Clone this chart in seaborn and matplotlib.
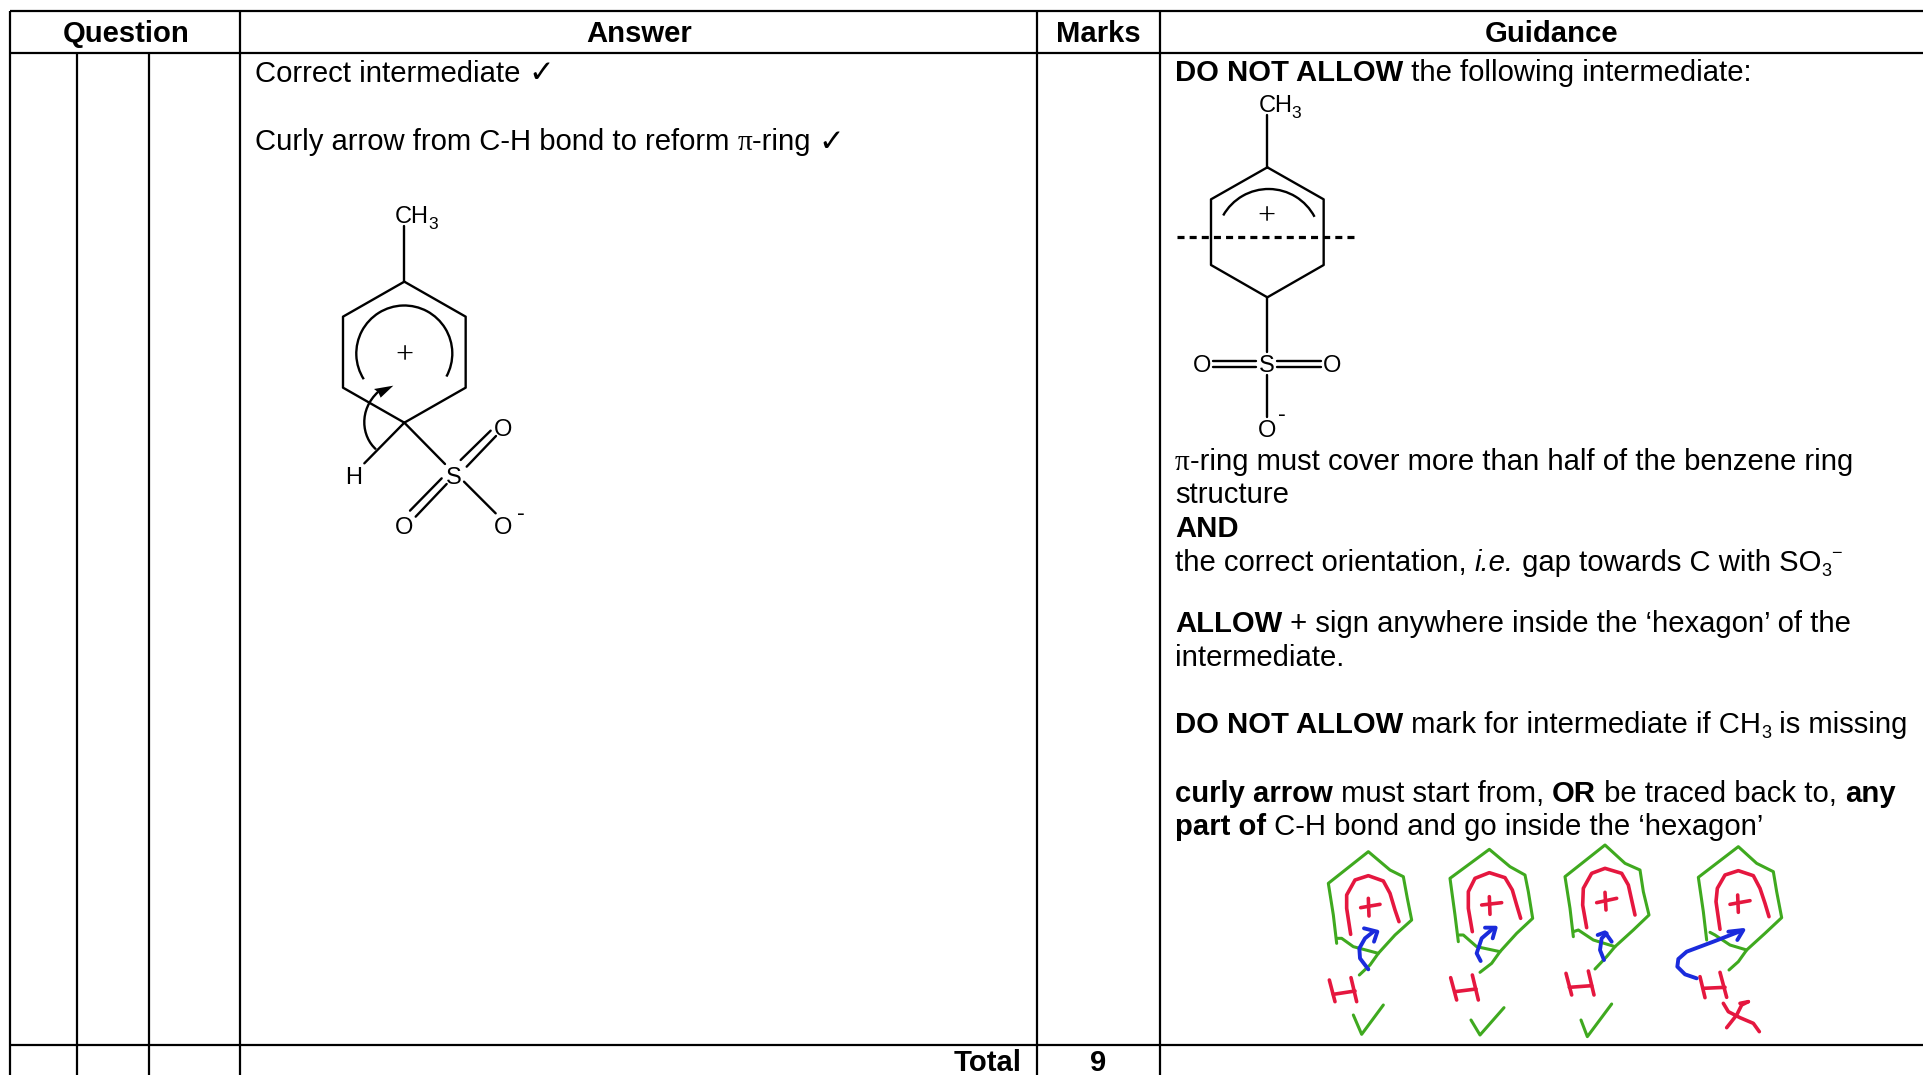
import matplotlib
matplotlib.use("Agg")
import matplotlib.pyplot as plt
import seaborn as sns
from matplotlib.patches import Arc, PathPatch, Polygon
from matplotlib.path import Path

# ---------- table ----------
V_LINES = [10, 77, 149, 240, 1037, 1160]
H_LINES = [11, 53, 1045]
HEADERS = ["Question", "Answer", "Marks", "Guidance"]
HEADER_X = [126, 639, 1098, 1552]

ANSWER_LINES = [
    (82, [("Correct intermediate ", "n"), ("✓", "c")]),
    (150.5, [("Curly arrow from C-H bond to reform ", "n"), ("π", "p"), ("-ring ", "n"), ("✓", "c")]),
]
GUIDANCE_LINES = [
    (81, [("DO NOT ALLOW", "b"), (" the following intermediate:", "n")]),
    (470, [("π", "p"), ("-ring must cover more than half of the benzene ring", "n")]),
    (503, [("structure", "n")]),
    (537, [("AND", "b")]),
    (571, [("the correct orientation, ", "n"), ("i.e.", "i"), (" gap towards C with SO", "n"), ("3", "s"), ("−", "u")]),
    (632, [("ALLOW", "b"), (" + sign anywhere inside the ‘hexagon’ of the", "n")]),
    (666, [("intermediate.", "n")]),
    (733, [("DO NOT ALLOW", "b"), (" mark for intermediate if CH", "n"), ("3", "s"), (" is missing", "n")]),
    (802, [("curly arrow", "b"), (" must start from, ", "n"), ("OR", "b"), (" be traced back to, ", "n"), ("any", "b")]),
    (835, [("part of", "b"), (" C-H bond and go inside the ‘hexagon’", "n")]),
]
TOTAL_LABEL = "Total"
TOTAL_VALUE = "9"

# ---------- structure A (answer), zoom units: x=250+zx/3, y=180+zy/3 ----------
A_ORIGIN = (250, 180)
A_RING = [(463, 305), (647, 410), (647, 623), (463, 728), (279, 623), (279, 410), (463, 305)]
A_BONDS = [[(463, 138), (463, 305)], [(463, 728), (585, 852)], [(463, 728), (343, 850)],
           [(632, 840), (722, 752)], [(650, 860), (738, 768)],
           [(480, 992), (575, 895)], [(497, 1010), (590, 912)], [(642, 905), (737, 1000)]]
A_LABELS = [("O", 758, 742), ("S", 612, 885), ("O", 462, 1035), ("O", 758, 1035), ("H", 312, 888)]

# ---------- structure B (guidance), zoom units: x=1150+zx/3, y=80+zy/3 ----------
B_ORIGIN = (1150, 80)
B_RING = [(352, 262), (521, 358), (521, 555), (352, 652), (183, 555), (183, 358), (352, 262)]
B_BONDS = [[(352, 105), (352, 262)], [(352, 652), (352, 815)], [(352, 885), (352, 1012)],
           [(190, 842), (318, 842)], [(190, 862), (318, 862)],
           [(382, 842), (512, 842)], [(382, 862), (512, 862)]]
B_DASH = [(82, 472), (617, 472)]
B_LABELS = [("O", 155, 852), ("S", 350, 852), ("O", 545, 852), ("O", 350, 1045)]

# ---------- handwritten sketches, zoom units: x=1300+zx/3, y=835+zy/3 ----------
H_ORIGIN = (1300, 835)
GREEN = "#3fa91f"
RED = "#e5173f"
BLUE = "#1a2bdc"
GREEN_STROKES = [
    [(110,325),(100,240),(85,145),(205,50),(270,105),(310,125),(322,190),(335,255),(285,300),(235,355),(210,390),(178,420)],
    [(112,310),(125,310),(160,335),(235,355)],
    [(160,540),(185,598),(250,510)],
    [(475,320),(465,240),(450,130),(568,43),(630,95),(675,120),(685,170),(698,250),(650,295),(600,350),(575,385),(540,412)],
    [(478,300),(490,300),(530,335),(600,350)],
    [(513,555),(540,600),(612,518)],
    [(820,305),(810,220),(795,125),(915,30),(975,85),(1020,105),(1030,170),(1047,240),(1000,285),(945,335),(920,365),(885,402)],
    [(820,290),(835,285),(880,315),(945,335)],
    [(843,555),(862,605),(935,507)],
    [(1220,315),(1210,230),(1195,127),(1315,35),(1370,85),(1420,110),(1430,170),(1445,248),(1395,295),(1340,345),(1315,380),(1287,405)],
    [(1230,292),(1245,300),(1290,330),(1340,345)],
]
RED_STROKES = [
    [(152,298),(140,220),(140,180),(165,135),(205,122),(250,138),(270,175),(285,225),(297,260)],
    [(182,218),(240,208)], [(205,190),(207,243)],
    [(88,435),(105,500)], [(153,428),(170,500)], [(100,478),(165,468)],
    [(517,290),(505,220),(505,170),(525,130),(568,113),(615,128),(637,165),(650,210),(662,250)],
    [(545,210),(605,203)], [(568,185),(570,238)],
    [(452,428),(470,495)], [(517,420),(535,495)], [(465,470),(528,462)],
    [(860,278),(848,210),(850,160),(875,115),(915,100),(965,115),(985,150),(995,195),(1005,240)],
    [(890,203),(950,190)], [(915,172),(918,225)],
    [(798,415),(815,480)], [(865,408),(882,480)], [(808,457),(875,452)],
    [(1260,283),(1248,200),(1252,160),(1275,120),(1315,107),(1360,122),(1380,160),(1395,205),(1407,245)],
    [(1290,208),(1350,197)], [(1313,180),(1315,232)],
    [(1200,425),(1215,488)], [(1260,412),(1280,487)], [(1210,460),(1275,457)],
    [(1270,505),(1285,530),(1320,548),(1360,565),(1378,590)],
    [(1280,578),(1310,540),(1325,510),(1345,500)], [(1320,505),(1345,500)],
]
BLUE_STROKES = [
    [(205,403),(180,370),(178,340),(195,310),(220,290)], [(192,280),(232,290),(222,320)],
    [(542,378),(530,355),(545,310),(580,280)], [(555,278),(587,278),(578,310)],
    [(912,375),(900,345),(905,310),(920,295)], [(893,300),(915,292),(935,320)],
    [(1190,430),(1155,418),(1132,395),(1135,372),(1160,350),(1240,320),(1325,287)], [(1285,290),(1330,285),(1312,315)],
]

# ---------- figure ----------
sns.set_theme(style="white")
plt.rcParams["font.family"] = ["Liberation Sans", "DejaVu Sans"]
fig = plt.figure(figsize=(19.24, 10.75), dpi=100, facecolor="white")
ax = fig.add_axes([0, 0, 1, 1])
FS = 21.1


def line(pts, color="black", lw=1.5, **kw):
    xs = [p[0] for p in pts]
    ys = [p[1] for p in pts]
    sns.lineplot(x=xs, y=ys, sort=False, estimator=None, ax=ax, color=color,
                 linewidth=lw, legend=False, solid_capstyle=kw.pop("cap", "round"),
                 solid_joinstyle="round", **kw)


def z(origin, pts):
    return [(origin[0] + p[0] / 3, origin[1] + p[1] / 3) for p in pts]


STYLES = {
    "n": dict(size=FS),
    "b": dict(size=FS, weight="bold"),
    "i": dict(size=FS, style="italic"),
    "p": dict(size=FS, family="Liberation Serif"),
    "s": dict(size=FS * 0.62),
    "u": dict(size=FS * 0.62),
    "c": dict(size=FS * 1.05, family="DejaVu Sans", weight="normal"),
}
RISE = {"s": 5, "u": -13}


def run_width(s, st):
    r = fig.canvas.get_renderer()
    a = ax.text(0, 0, s + "|", **STYLES[st])
    b = ax.text(0, 0, "|", **STYLES[st])
    w = a.get_window_extent(r).width - b.get_window_extent(r).width
    a.remove()
    b.remove()
    return w


def runs(x, y, parts):
    for s, st in parts:
        ax.text(x, y + RISE.get(st, 0), s, ha="left", va="baseline", color="black", **STYLES[st])
        x += run_width(s, st)


ax.set_xlim(0, 1924)
ax.set_ylim(1075, 0)

# grid
for x in V_LINES:
    top = H_LINES[1] if x in V_LINES[1:3] else H_LINES[0]
    line([(x, top), (x, 1075)], lw=1.6, cap="butt")
for y in H_LINES:
    line([(V_LINES[0], y), (1924, y)], lw=1.6, cap="butt")

for s, x in zip(HEADERS, HEADER_X):
    ax.text(x, 42, s, ha="center", va="baseline", weight="bold", size=FS, color="black")
ax.text(1022, 1071, TOTAL_LABEL, ha="right", va="baseline", weight="bold", size=FS, color="black")
ax.text(1098, 1071, TOTAL_VALUE, ha="center", va="baseline", weight="bold", size=FS, color="black")

for y, parts in ANSWER_LINES:
    runs(255, y, parts)
for y, parts in GUIDANCE_LINES:
    runs(1175, y, parts)

# structure A
LW = 1.7
LSZ = 17
line(z(A_ORIGIN, A_RING), lw=LW)
for b in A_BONDS:
    line(z(A_ORIGIN, b), lw=LW)
for s, zx, zy in A_LABELS:
    x, y = z(A_ORIGIN, [(zx, zy)])[0]
    ax.text(x, y + 8.5, s, ha="center", va="baseline", size=LSZ, color="black")
ax.text(395, 223, "CH", ha="left", va="baseline", size=LSZ, color="black")
ax.text(428, 229, "3", ha="left", va="baseline", size=12.5, color="black")
ax.text(521, 520, "-", ha="center", va="baseline", size=LSZ, color="black")
ax.text(404.3, 363, "+", ha="center", va="baseline", size=23, family="Liberation Serif", color="black")
ax.add_patch(Arc((404.3, 353.5), 96, 96, theta1=147.6, theta2=388.7, color="black", lw=LW))
arrow = z(A_ORIGIN, [(378, 808), (335, 770), (325, 690), (385, 635)])
ax.add_patch(PathPatch(Path(arrow, [Path.MOVETO, Path.CURVE4, Path.CURVE4, Path.CURVE4]),
                       fill=False, color="black", lw=LW))
ax.add_patch(Polygon(z(A_ORIGIN, [(430, 617), (372, 627), (385, 637), (392, 653)]), closed=True,
                     color="black", lw=0))

# structure B
line(z(B_ORIGIN, B_RING), lw=LW)
for b in B_BONDS:
    line(z(B_ORIGIN, b), lw=LW)
line(z(B_ORIGIN, B_DASH), lw=2.3, cap="butt", linestyle=(0, (2.2, 1.6)))
for s, zx, zy in B_LABELS:
    x, y = z(B_ORIGIN, [(zx, zy)])[0]
    ax.text(x, y + 8.5, s, ha="center", va="baseline", size=LSZ, color="black")
ax.text(1259, 112, "CH", ha="left", va="baseline", size=LSZ, color="black")
ax.text(1291, 118, "3", ha="left", va="baseline", size=12.5, color="black")
ax.text(1282, 421, "-", ha="center", va="baseline", size=LSZ, color="black")
ax.text(1266.3, 224, "+", ha="center", va="baseline", size=23, family="Liberation Serif", color="black")
ax.add_patch(Arc((1268.5, 241), 104, 104, theta1=209.4, theta2=332.3, color="black", lw=LW))

# handwritten
for strokes, c, lw in [(GREEN_STROKES, GREEN, 2.2), (RED_STROKES, RED, 2.6), (BLUE_STROKES, BLUE, 2.8)]:
    for st in strokes:
        line(z(H_ORIGIN, st), color=c, lw=lw)

ax.set_xlim(0, 1924)
ax.set_ylim(1075, 0)
ax.axis("off")
fig.savefig("out.png", dpi=100, facecolor="white")
